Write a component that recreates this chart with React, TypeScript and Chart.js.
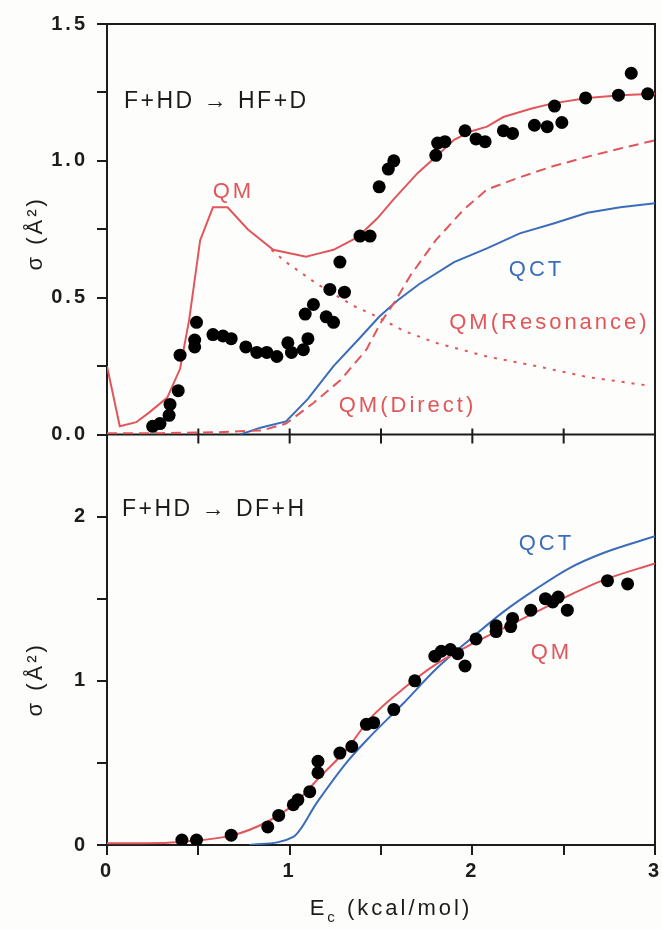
import React, { useEffect, useRef } from 'react';
import { Chart, registerables } from 'chart.js';

Chart.register(...registerables);

type Pt = [number, number];

// ---- Upper panel: F + HD -> HF + D ----
const hfQM: Pt[] = [
  [0, 0.25], [0.07, 0.03], [0.16, 0.045], [0.23, 0.08], [0.33, 0.135], [0.4, 0.24],
  [0.45, 0.42], [0.51, 0.71], [0.58, 0.83], [0.66, 0.83], [0.77, 0.75], [0.91, 0.675],
  [1.09, 0.65], [1.15, 0.66], [1.24, 0.675], [1.37, 0.72], [1.48, 0.79], [1.57, 0.86],
  [1.7, 0.955], [1.8, 1.015], [1.9, 1.077], [1.99, 1.107], [2.08, 1.125], [2.17, 1.16],
  [2.32, 1.19], [2.44, 1.21], [2.63, 1.23], [2.81, 1.24], [3.0, 1.245],
];
const hfDirect: Pt[] = [
  [0, 0.005], [0.3, 0.005], [0.6, 0.008], [0.85, 0.015], [0.98, 0.04], [1.13, 0.115],
  [1.28, 0.2], [1.42, 0.31], [1.5, 0.41], [1.58, 0.49], [1.66, 0.58], [1.8, 0.71],
  [1.95, 0.82], [2.08, 0.895], [2.26, 0.94], [2.44, 0.98], [2.63, 1.015], [2.81, 1.045],
  [3.0, 1.075],
];
const hfResonance: Pt[] = [
  [0.9, 0.675], [0.98, 0.63], [1.15, 0.55], [1.35, 0.47], [1.48, 0.43], [1.62, 0.38],
  [1.8, 0.335], [2.08, 0.285], [2.35, 0.25], [2.63, 0.21], [2.95, 0.18],
];
const hfQCT: Pt[] = [
  [0.73, 0.0], [0.84, 0.025], [0.98, 0.048], [1.1, 0.13], [1.24, 0.25], [1.38, 0.35],
  [1.49, 0.43], [1.59, 0.49], [1.71, 0.55], [1.9, 0.63], [2.08, 0.68], [2.26, 0.735],
  [2.44, 0.77], [2.63, 0.81], [2.81, 0.83], [3.0, 0.845],
];
const hfExp: Pt[] = [
  [0.25, 0.03], [0.29, 0.04], [0.34, 0.07], [0.345, 0.11], [0.39, 0.16], [0.4, 0.29],
  [0.48, 0.32], [0.48, 0.345], [0.49, 0.41], [0.58, 0.365], [0.635, 0.36], [0.68, 0.35],
  [0.76, 0.32], [0.82, 0.3], [0.875, 0.3], [0.93, 0.285], [0.99, 0.335], [1.01, 0.3],
  [1.075, 0.31], [1.1, 0.35], [1.085, 0.44], [1.13, 0.475], [1.2, 0.43], [1.24, 0.41],
  [1.22, 0.53], [1.3, 0.52], [1.275, 0.63], [1.385, 0.725], [1.44, 0.725], [1.49, 0.905],
  [1.54, 0.97], [1.57, 1.0], [1.8, 1.02], [1.81, 1.065], [1.85, 1.07], [1.96, 1.11],
  [2.02, 1.08], [2.07, 1.07], [2.17, 1.11], [2.22, 1.1], [2.34, 1.13], [2.41, 1.125],
  [2.45, 1.2], [2.49, 1.14], [2.62, 1.23], [2.8, 1.24], [2.87, 1.32], [2.96, 1.245],
];

// ---- Lower panel: F + HD -> DF + H ----
const dfQM: Pt[] = [
  [0, 0.01], [0.2, 0.01], [0.42, 0.02], [0.69, 0.06], [0.875, 0.14], [1.02, 0.245],
  [1.17, 0.42], [1.31, 0.58], [1.44, 0.77], [1.62, 0.95], [1.8, 1.1], [1.99, 1.22],
  [2.17, 1.32], [2.35, 1.42], [2.53, 1.52], [2.71, 1.61], [3.0, 1.715],
];
const dfQCT: Pt[] = [
  [0.78, 0.0], [1.02, 0.05], [1.15, 0.26], [1.31, 0.5], [1.44, 0.66], [1.62, 0.86],
  [1.8, 1.07], [1.99, 1.255], [2.17, 1.42], [2.35, 1.56], [2.53, 1.685], [2.71, 1.775],
  [3.0, 1.88],
];
const dfExp: Pt[] = [
  [0.41, 0.03], [0.49, 0.03], [0.68, 0.06], [0.88, 0.11], [0.94, 0.18], [1.02, 0.245],
  [1.045, 0.275], [1.11, 0.325], [1.155, 0.44], [1.155, 0.51], [1.275, 0.56], [1.34, 0.6],
  [1.42, 0.735], [1.46, 0.745], [1.57, 0.825], [1.685, 1.0], [1.795, 1.15], [1.83, 1.18],
  [1.88, 1.19], [1.92, 1.165], [1.96, 1.09], [2.02, 1.255], [2.13, 1.335], [2.13, 1.3],
  [2.21, 1.33], [2.22, 1.38], [2.32, 1.43], [2.4, 1.5], [2.44, 1.48], [2.47, 1.51],
  [2.52, 1.43], [2.74, 1.61], [2.85, 1.59],
];

// Axis ranges and tick steps
const xRange: Pt = [0, 3];
const hfRange: Pt = [0, 1.5];
const dfRange: Pt = [0, 2.5];
const xStep = 0.5;
const hfStep = 0.25;
const dfStep = 0.5;

const RED = '#e0565b';
const BLUE = '#3a6cba';
const INK = '#1c1c1c';
const FONT = '"Liberation Sans", Arial, Helvetica, sans-serif';

type Label = { text: string; x: number; y: number; axis: 'y' | 'y2'; color: string; align: CanvasTextAlign; size: number; spacing: number };

const labels: Label[] = [
  { text: 'F+HD \u2192 HF+D', x: 0.093, y: 1.215, axis: 'y', color: INK, align: 'left', size: 23, spacing: 2.5 },
  { text: 'QM', x: 0.684, y: 0.887, axis: 'y', color: RED, align: 'center', size: 22, spacing: 3 },
  { text: 'QCT', x: 2.343, y: 0.602, axis: 'y', color: BLUE, align: 'center', size: 22, spacing: 3 },
  { text: 'QM(Resonance)', x: 2.414, y: 0.409, axis: 'y', color: RED, align: 'center', size: 22, spacing: 3 },
  { text: 'QM(Direct)', x: 1.637, y: 0.106, axis: 'y', color: RED, align: 'center', size: 22, spacing: 3 },
  { text: 'F+HD \u2192 DF+H', x: 0.082, y: 2.04, axis: 'y2', color: INK, align: 'left', size: 23, spacing: 2.5 },
  { text: 'QCT', x: 2.397, y: 1.832, axis: 'y2', color: BLUE, align: 'center', size: 22, spacing: 3 },
  { text: 'QM', x: 2.425, y: 1.17, axis: 'y2', color: RED, align: 'center', size: 22, spacing: 3 },
];

const pts = (a: Pt[]) => a.map(([x, y]) => ({ x, y }));
const isMultiple = (v: number, step: number) => Math.abs(v / step - Math.round(v / step)) < 1e-6;

const tickFont = { family: FONT, size: 20, weight: 'bold' as const };

function drawSpaced(ctx: CanvasRenderingContext2D, text: string, x: number, y: number, font: string, color: string, spacing: number, align: CanvasTextAlign) {
  ctx.save();
  ctx.font = font;
  ctx.fillStyle = color;
  (ctx as any).letterSpacing = `${spacing}px`;
  ctx.textAlign = align;
  ctx.textBaseline = 'middle';
  const shift = align === 'center' ? spacing / 2 : 0;
  ctx.fillText(text, x + shift, y);
  ctx.restore();
}

const panelDecor = {
  id: 'panelDecor',
  beforeDraw(chart: any) {
    chart.ctx.letterSpacing = '3px';
  },
  beforeDatasetsDraw(chart: any) {
    const { ctx, chartArea: a, scales } = chart;
    const mid = scales.y.bottom;
    ctx.save();
    ctx.strokeStyle = INK;
    ctx.lineWidth = 2;
    ctx.beginPath();
    ctx.moveTo(a.left, a.top);
    ctx.lineTo(a.right, a.top);
    ctx.lineTo(a.right, a.bottom);
    ctx.moveTo(a.left, mid);
    ctx.lineTo(a.right, mid);
    for (const t of scales.x.ticks) {
      const px = scales.x.getPixelForValue(t.value);
      ctx.moveTo(px, mid - 6);
      ctx.lineTo(px, mid + 9);
    }
    ctx.stroke();
    ctx.restore();
  },
  afterDatasetsDraw(chart: any) {
    const { ctx, chartArea: a, scales } = chart;
    for (const l of labels) {
      const px = scales.x.getPixelForValue(l.x);
      const py = scales[l.axis].getPixelForValue(l.y);
      drawSpaced(ctx, l.text, px, py, `${l.size}px ${FONT}`, l.color, l.spacing, l.align);
    }
    // y-axis titles, rotated
    const yTitle = '\u03c3 (\u00c5\u00b2)';
    const titleFont = `22px ${FONT}`;
    const tx = a.left - 71;
    for (const [axis, v] of [['y', 0.73], ['y2', 1.0]] as [string, number][]) {
      const ty = scales[axis].getPixelForValue(v);
      ctx.save();
      ctx.translate(tx, ty);
      ctx.rotate(-Math.PI / 2);
      drawSpaced(ctx, yTitle, 0, 0, titleFont, INK, 3, 'center');
      ctx.restore();
    }
    // x-axis title with subscript
    ctx.save();
    (ctx as any).letterSpacing = '3px';
    ctx.fillStyle = INK;
    ctx.textBaseline = 'alphabetic';
    ctx.textAlign = 'left';
    const mainFont = `22px ${FONT}`;
    const subFont = `15px ${FONT}`;
    ctx.font = mainFont;
    const wE = ctx.measureText('E').width;
    const rest = ' (kcal/mol)';
    const wRest = ctx.measureText(rest).width;
    ctx.font = subFont;
    const wSub = ctx.measureText('c').width;
    const total = wE + wSub + wRest;
    const cx = (a.left + a.right) / 2 + 10;
    const base = scales.x.bottom - 14;
    let x0 = cx - total / 2;
    ctx.font = mainFont;
    ctx.fillText('E', x0, base);
    x0 += wE;
    ctx.font = subFont;
    ctx.fillText('c', x0, base + 7);
    x0 += wSub;
    ctx.font = mainFont;
    ctx.fillText(rest, x0, base);
    ctx.restore();
  },
};

const lineDs = (label: string, data: Pt[], axis: string, color: string, dash: number[], smooth: boolean) => ({
  type: 'line' as const,
  label,
  data: pts(data),
  yAxisID: axis,
  borderColor: color,
  borderWidth: 2,
  borderDash: dash,
  pointRadius: 0,
  fill: false,
  tension: 0,
  cubicInterpolationMode: smooth ? ('monotone' as const) : ('default' as const),
});

const dotDs = (label: string, data: Pt[], axis: string) => ({
  type: 'scatter' as const,
  label,
  data: pts(data),
  yAxisID: axis,
  backgroundColor: '#000',
  borderColor: '#000',
  borderWidth: 0,
  pointRadius: 6.5,
  showLine: false,
});

// axis boxes keep fixed sizes and do not ask for extra room for edge labels
const fixWidth = (s: any) => { s.width = 107; s.paddingTop = 0; s.paddingBottom = 0; };
const fixHeight = (s: any) => { s.height = 84; s.paddingLeft = 0; s.paddingRight = 0; };

export default function App() {
  const ref = useRef<HTMLCanvasElement>(null);

  useEffect(() => {
    if (!ref.current) return;
    const chart = new Chart(ref.current, {
      type: 'scatter',
      data: {
        datasets: [
          dotDs('HF+D experiment', hfExp, 'y'),
          dotDs('DF+H experiment', dfExp, 'y2'),
          lineDs('HF+D QM', hfQM, 'y', RED, [], false),
          lineDs('HF+D QM(Direct)', hfDirect, 'y', RED, [10, 6], false),
          lineDs('HF+D QM(Resonance)', hfResonance, 'y', RED, [3, 7], false),
          lineDs('HF+D QCT', hfQCT, 'y', BLUE, [], false),
          lineDs('DF+H QM', dfQM, 'y2', RED, [], true),
          lineDs('DF+H QCT', dfQCT, 'y2', BLUE, [], true),
        ] as any,
      },
      options: {
        responsive: false,
        animation: false,
        layout: { padding: { top: 24, right: 7, left: 0, bottom: 0 } },
        plugins: { legend: { display: false }, tooltip: { enabled: false } },
        scales: {
          x: {
            type: 'linear',
            position: 'bottom',
            min: xRange[0],
            max: xRange[1],
            ticks: {
              stepSize: xStep,
              autoSkip: false,
              maxRotation: 0,
              padding: 4,
              color: INK,
              font: tickFont,
              callback: (v: any) => (isMultiple(v, 1) ? String(v) : ''),
            },
            grid: { drawOnChartArea: false, tickLength: 10, color: INK, lineWidth: 2 },
            border: { color: INK, width: 2 },
            afterFit: fixHeight,
          },
          y2: {
            type: 'linear',
            position: 'left',
            stack: 'panels',
            stackWeight: 1,
            min: dfRange[0],
            max: dfRange[1],
            ticks: {
              stepSize: dfStep,
              autoSkip: false,
              padding: 9,
              color: INK,
              font: tickFont,
              callback: (v: any) => (isMultiple(v, 1) ? String(v) : ''),
            },
            grid: { drawOnChartArea: false, tickLength: 10, color: INK, lineWidth: 2 },
            border: { color: INK, width: 2 },
            afterFit: fixWidth,
          },
          y: {
            type: 'linear',
            position: 'left',
            stack: 'panels',
            stackWeight: 1,
            min: hfRange[0],
            max: hfRange[1],
            ticks: {
              stepSize: hfStep,
              autoSkip: false,
              padding: 9,
              color: INK,
              font: tickFont,
              callback: (v: any) => (isMultiple(v, 0.5) ? Number(v).toFixed(1) : ''),
            },
            grid: { drawOnChartArea: false, tickLength: 10, color: INK, lineWidth: 2 },
            border: { color: INK, width: 2 },
            afterFit: fixWidth,
          },
        },
      } as any,
      plugins: [panelDecor],
    });
    return () => chart.destroy();
  }, []);

  return (
    <div style={{ position: 'absolute', left: 0, top: 0, width: 662, height: 929, background: '#fdfdfc' }}>
      <canvas ref={ref} width={662} height={929} style={{ display: 'block', width: 662, height: 929 }} />
    </div>
  );
}
